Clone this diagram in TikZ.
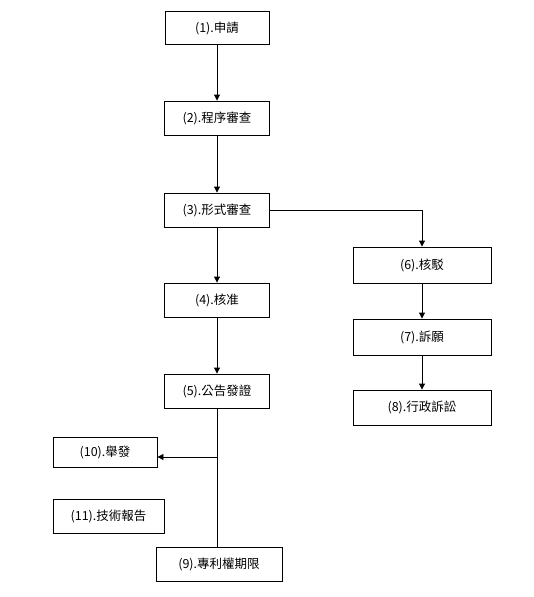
\documentclass[tikz,border=0pt]{standalone}
\usepackage{fontspec}
\setmainfont{Noto Sans CJK TC}
\usetikzlibrary{arrows.meta}
\begin{document}
\begin{tikzpicture}[x=1pt,y=-1pt,
  box/.style={draw,line width=0.9pt,inner sep=0pt,font=\fontsize{12.5}{14}\selectfont},
  arr/.style={line width=0.9pt,-{Triangle[length=6pt,width=6pt]}},
  ln/.style={line width=0.9pt}]
\useasboundingbox (0,0) rectangle (533,597);
\node[box,minimum width=104pt,minimum height=33pt] (n1) at (217,28) {(1).申請};
\node[box,minimum width=105pt,minimum height=34pt] (n2) at (217,118) {(2).程序審查};
\node[box,minimum width=105pt,minimum height=34pt] (n3) at (217,210) {(3).形式審查};
\node[box,minimum width=105pt,minimum height=34pt] (n4) at (217,300) {(4).核准};
\node[box,minimum width=105pt,minimum height=34pt] (n5) at (217,391) {(5).公告發證};
\node[box,minimum width=138pt,minimum height=36pt] (n6) at (422,265) {(6).核駁};
\node[box,minimum width=138pt,minimum height=36pt] (n7) at (422,337) {(7).訴願};
\node[box,minimum width=138pt,minimum height=35pt] (n8) at (422,407.5) {(8).行政訴訟};
\node[box,minimum width=104pt,minimum height=30pt] (n10) at (105,452) {(10).舉發};
\node[box,minimum width=111pt,minimum height=34pt] (n11) at (108.5,516) {(11).技術報告};
\node[box,minimum width=126pt,minimum height=34pt] (n9) at (219,564) {(9).專利權期限};
\draw[arr] (n1) -- (n2);
\draw[arr] (n2) -- (n3);
\draw[arr] (n3) -- (n4);
\draw[arr] (n4) -- (n5);
\draw[arr] (n3.east) -| (n6.north);
\draw[arr] (n6) -- (n7);
\draw[arr] (n7) -- (n8);
\coordinate (j) at (n5.south |- 0,457);
\draw[ln] (n5.south) -- (n5.south |- n9.north);
\draw[arr] (j) -- (j -| n10.east);
\end{tikzpicture}
\end{document}
